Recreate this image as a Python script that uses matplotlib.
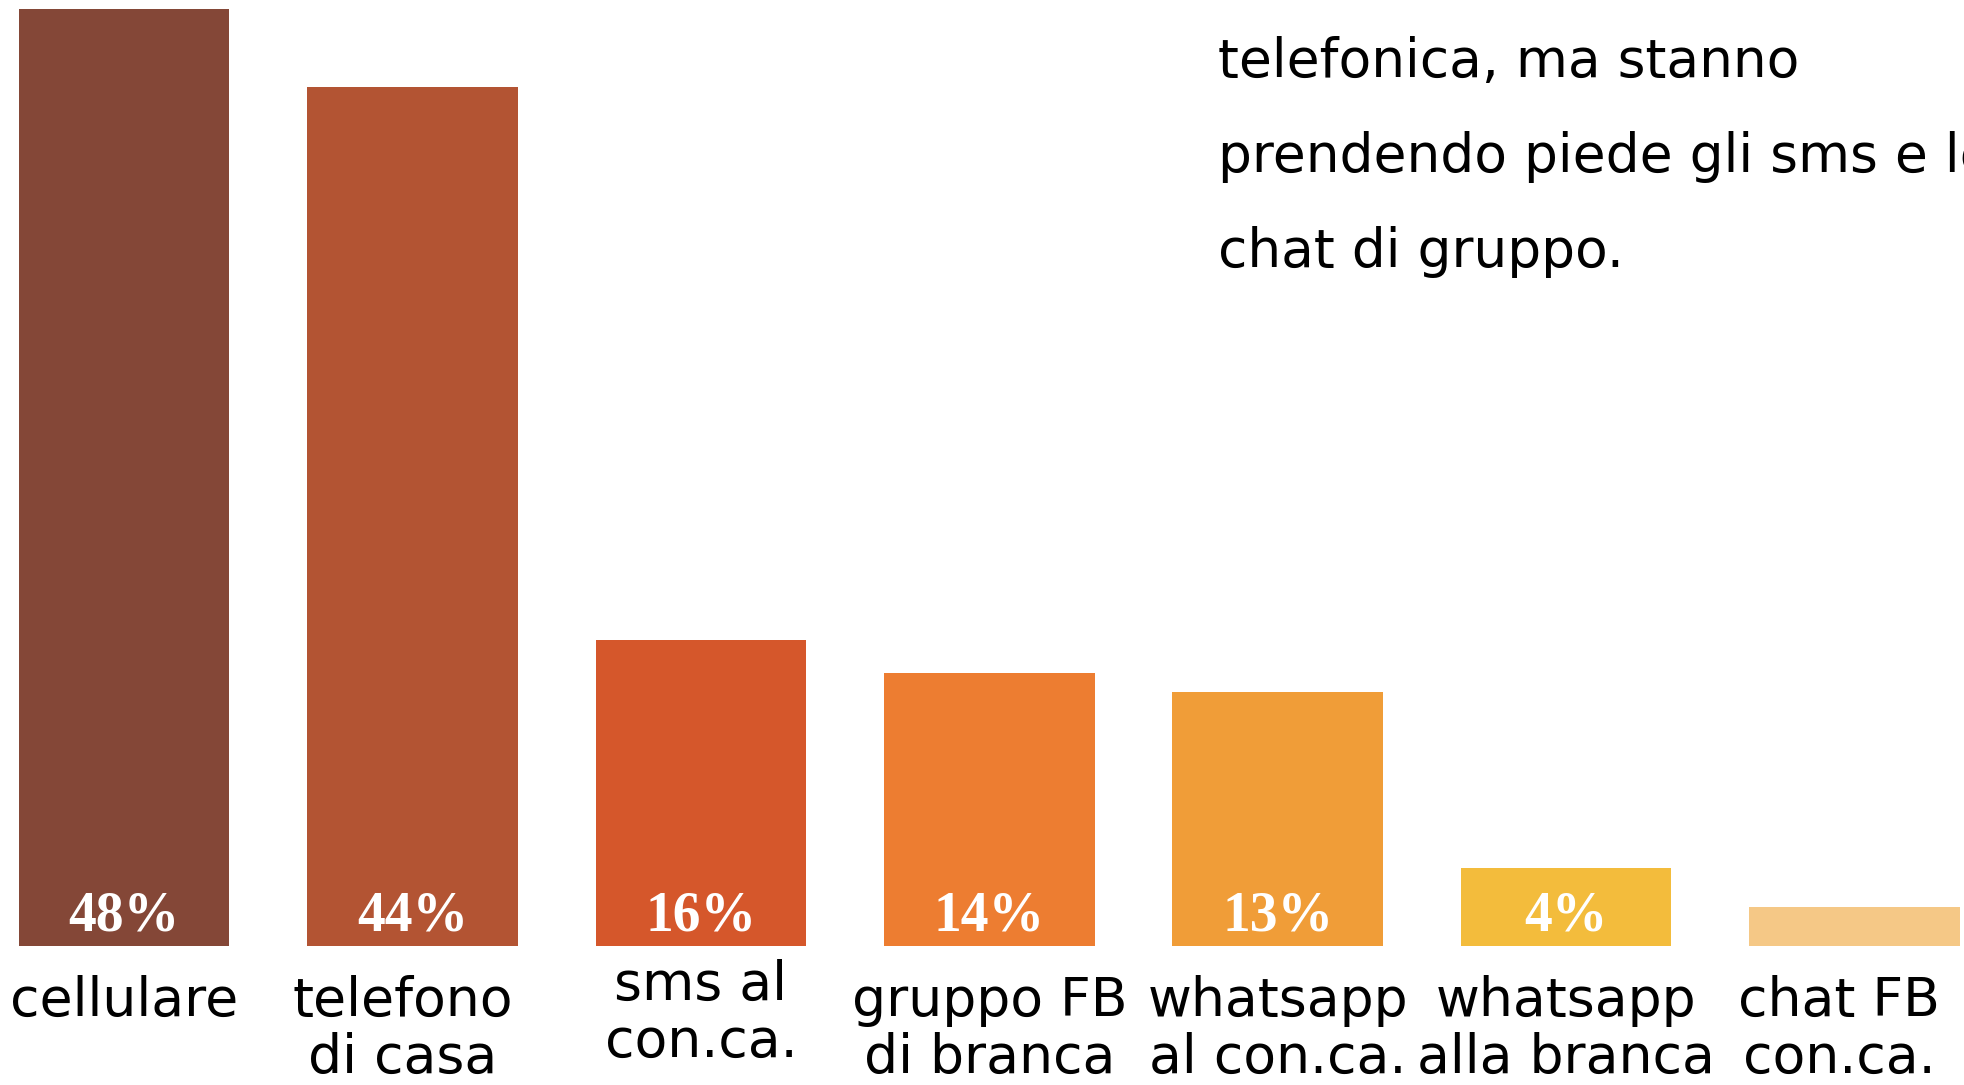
import matplotlib
matplotlib.use("Agg")
import matplotlib.pyplot as plt

categories = ["cellulare", "telefono\ndi casa", "sms al\ncon.ca.", "gruppo FB\ndi branca",
              "whatsapp\nal con.ca.", "whatsapp\nalla branca", "chat FB\ncon.ca."]
values = [48, 44, 15.7, 14, 13, 4, 2]
pct_labels = ["48%", "44%", "16%", "14%", "13%", "4%", ""]
colors = ["#844737", "#B35433", "#D5572B", "#ED7D31", "#F09D38", "#F3BC3C", "#F5C886"]
note_lines = ["telefonica, ma stanno", "prendendo piede gli sms e le", "chat di gruppo."]

W, H = 1965, 1085
fig = plt.figure(figsize=(W / 100, H / 100), dpi=100)
fig.patch.set_facecolor("white")

ax = fig.add_axes([0, 1 - 946 / H, 1, (946 - 9) / H])
x = list(range(len(categories)))
ax.bar(x, values, width=0.73, color=colors)
ax.set_ylim(0, 48)
ax.set_xlim(-0.43, 6.383)
ax.axis("off")

for i, (v, lab) in enumerate(zip(values, pct_labels)):
    if lab:
        ax.annotate(lab, xy=(i, 0), xytext=(0, 11.5), textcoords="offset points",
                    ha="center", va="baseline", color="white", fontsize=40,
                    fontweight="bold", family="Liberation Serif")

label_dx = [0, -7, 0, 0, 0, 0, -11]
label_pad = [20.9, 20.9, 9.4, 20.9, 20.9, 20.9, 20.9]
for i, cat in enumerate(categories):
    ax.annotate(cat, xy=(i, 0), xytext=(label_dx[i], -label_pad[i]), textcoords="offset points",
                ha="center", va="top", multialignment="center", fontsize=38.6,
                linespacing=1.11, family="DejaVu Sans", color="black",
                annotation_clip=False)

for k, line in enumerate(note_lines):
    fig.text(1218 / W, 1 - (77 + 95 * k) / H, line, ha="left", va="baseline",
             fontsize=38.4, family="DejaVu Sans", color="black")

fig.savefig("out.png", dpi=100, facecolor="white")
